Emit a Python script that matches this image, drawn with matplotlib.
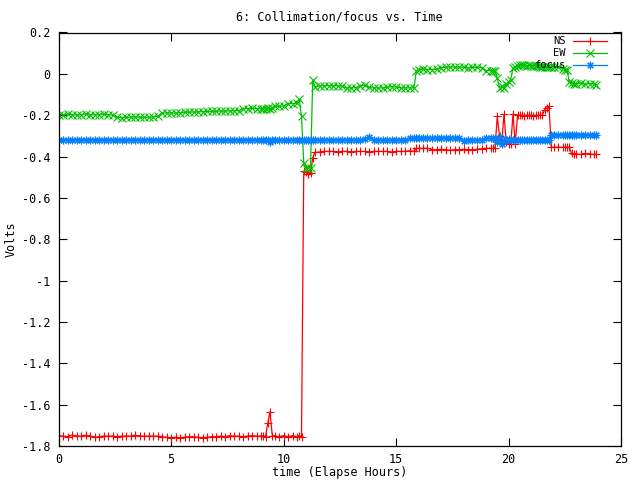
import matplotlib
matplotlib.use("Agg")
import matplotlib.pyplot as plt
from matplotlib.lines import Line2D
from matplotlib.ticker import FuncFormatter

plt.rcParams['font.family'] = ['DejaVu Sans Mono', 'DejaVu Sans']
plt.rcParams['axes.unicode_minus'] = False

title = "6: Collimation/focus vs. Time"
x_label = "time (Elapse Hours)"
y_label = "Volts"
series_names = ["NS", "EW", "focus"]
series_colors = ["#ff0000", "#00c000", "#0080ff"]
x_ticks = [0, 5, 10, 15, 20, 25]
y_ticks = [0.2, 0, -0.2, -0.4, -0.6, -0.8, -1, -1.2, -1.4, -1.6, -1.8]

time_h = [
    0.0, 0.2, 0.4, 0.6, 0.8, 1.0, 1.2, 1.4, 1.6, 1.8,
    2.0, 2.2, 2.4, 2.6, 2.8, 3.0, 3.2, 3.4, 3.6, 3.8,
    4.0, 4.2, 4.4, 4.6, 4.8, 5.0, 5.2, 5.4, 5.6, 5.8,
    6.0, 6.2, 6.4, 6.6, 6.8, 7.0, 7.2, 7.4, 7.6, 7.8,
    8.0, 8.2, 8.4, 8.6, 8.8, 9.0,
    9.1, 9.2, 9.3, 9.4, 9.5, 9.6, 9.8, 10.0, 10.2, 10.4,
    10.6, 10.7, 10.8, 10.9, 11.0, 11.1, 11.2, 11.3, 11.4,
    11.6, 11.8, 12.0, 12.2, 12.4, 12.6, 12.8, 13.0, 13.2, 13.4,
    13.6, 13.8, 14.0, 14.2, 14.4, 14.6, 14.8, 15.0, 15.2, 15.4,
    15.6, 15.8,
    15.9, 16.0, 16.2, 16.4, 16.6, 16.8, 17.0, 17.2, 17.4, 17.6,
    17.8, 18.0, 18.2, 18.4, 18.6, 18.8, 19.0, 19.2,
    19.3, 19.4, 19.5, 19.6, 19.7, 19.8, 19.9, 20.0, 20.1, 20.2,
    20.3, 20.4, 20.5, 20.6, 20.7, 20.8, 20.9, 21.0, 21.1, 21.2,
    21.3, 21.4, 21.5, 21.6, 21.7, 21.8, 21.9, 22.0,
    22.2, 22.4, 22.5, 22.6, 22.7, 22.8, 22.9, 23.0, 23.2, 23.4,
    23.6, 23.8, 23.9,
]

ns_volts = [
    -1.752, -1.752, -1.755, -1.748, -1.752, -1.752, -1.748, -1.752, -1.758, -1.755,
    -1.752, -1.752, -1.752, -1.755, -1.752, -1.752, -1.752, -1.748, -1.752, -1.752,
    -1.752, -1.752, -1.752, -1.755, -1.758, -1.76, -1.758, -1.76, -1.758, -1.755,
    -1.755, -1.758, -1.76, -1.758, -1.755, -1.755, -1.752, -1.755, -1.75, -1.752,
    -1.752, -1.755, -1.752, -1.75, -1.752, -1.752,
    -1.75, -1.755, -1.69, -1.635, -1.75, -1.75, -1.755, -1.75, -1.755, -1.75,
    -1.755, -1.75, -1.755, -0.47, -0.475, -0.485, -0.48, -0.405, -0.38,
    -0.378, -0.375, -0.375, -0.375, -0.378, -0.375, -0.375, -0.38, -0.375, -0.375,
    -0.375, -0.38, -0.375, -0.375, -0.375, -0.375, -0.38, -0.375, -0.375, -0.375,
    -0.372, -0.375,
    -0.36, -0.36, -0.36, -0.36, -0.367, -0.367, -0.365, -0.367, -0.37, -0.367,
    -0.367, -0.365, -0.367, -0.367, -0.365, -0.362, -0.36, -0.36,
    -0.36, -0.36, -0.205, -0.30, -0.335, -0.195, -0.33, -0.34, -0.34, -0.195,
    -0.34, -0.2, -0.2, -0.2, -0.205, -0.2, -0.2, -0.2, -0.205, -0.2,
    -0.2, -0.2, -0.2, -0.175, -0.165, -0.157, -0.355, -0.355,
    -0.355, -0.355, -0.355, -0.355, -0.355, -0.385, -0.387, -0.387, -0.39, -0.385,
    -0.387, -0.39, -0.387,
]

ew_volts = [
    -0.197, -0.197, -0.195, -0.197, -0.2, -0.197, -0.195, -0.2, -0.197, -0.197,
    -0.195, -0.197, -0.2, -0.21, -0.212, -0.21, -0.21, -0.208, -0.21, -0.21,
    -0.21, -0.208, -0.205, -0.19, -0.189, -0.189, -0.19, -0.188, -0.186, -0.185,
    -0.185, -0.184, -0.183, -0.182, -0.182, -0.181, -0.18, -0.18, -0.179, -0.178,
    -0.178, -0.168, -0.168, -0.167, -0.168, -0.168,
    -0.168, -0.168, -0.167, -0.168, -0.166, -0.157, -0.157, -0.156, -0.144, -0.144,
    -0.143, -0.122, -0.205, -0.43, -0.455, -0.455, -0.455, -0.028, -0.065,
    -0.057, -0.057, -0.057, -0.058, -0.057, -0.06, -0.068, -0.068, -0.067, -0.06,
    -0.055, -0.065, -0.068, -0.068, -0.068, -0.066, -0.062, -0.062, -0.068, -0.068,
    -0.068, -0.068,
    0.013, 0.021, 0.022, 0.021, 0.021, 0.022, 0.03, 0.032, 0.034, 0.032,
    0.033, 0.032, 0.03, 0.032, 0.031, 0.03, 0.016, 0.016,
    0.016, 0.015, -0.02, -0.068, -0.06, -0.07, -0.05, -0.04, -0.028, 0.028,
    0.035, 0.04, 0.045, 0.042, 0.042, 0.04, 0.042, 0.04, 0.04, 0.038,
    0.036, 0.035, 0.035, 0.034, 0.035, 0.035, 0.034, 0.035,
    0.035, 0.025, 0.021, 0.02, -0.04, -0.045, -0.047, -0.048, -0.045, -0.05,
    -0.047, -0.048, -0.052,
]

focus_volts = [
    -0.318, -0.318, -0.318, -0.318, -0.318, -0.318, -0.318, -0.318, -0.318, -0.318,
    -0.318, -0.318, -0.318, -0.318, -0.318, -0.318, -0.318, -0.318, -0.318, -0.318,
    -0.318, -0.318, -0.318, -0.318, -0.318, -0.318, -0.318, -0.318, -0.318, -0.318,
    -0.318, -0.318, -0.318, -0.318, -0.318, -0.318, -0.318, -0.318, -0.318, -0.318,
    -0.318, -0.318, -0.318, -0.318, -0.318, -0.318,
    -0.32, -0.32, -0.32, -0.332, -0.32, -0.32, -0.32, -0.32, -0.32, -0.32,
    -0.32, -0.32, -0.32, -0.32, -0.32, -0.32, -0.32, -0.32, -0.32,
    -0.32, -0.32, -0.32, -0.32, -0.32, -0.32, -0.32, -0.32, -0.32, -0.32,
    -0.315, -0.307, -0.32, -0.32, -0.32, -0.32, -0.32, -0.32, -0.32, -0.32,
    -0.31, -0.31,
    -0.31, -0.31, -0.31, -0.31, -0.31, -0.31, -0.31, -0.31, -0.31, -0.31,
    -0.312, -0.325, -0.318, -0.318, -0.32, -0.318, -0.312, -0.31,
    -0.31, -0.315, -0.33, -0.305, -0.34, -0.325, -0.318, -0.315, -0.318, -0.32,
    -0.318, -0.318, -0.318, -0.318, -0.32, -0.318, -0.318, -0.318, -0.318, -0.32,
    -0.318, -0.318, -0.318, -0.318, -0.318, -0.318, -0.295, -0.295,
    -0.295, -0.295, -0.295, -0.294, -0.295, -0.295, -0.295, -0.294, -0.295, -0.295,
    -0.295, -0.295, -0.295,
]

W, H = 640, 480
fig = plt.figure(figsize=(6.4, 4.8), dpi=100)
left, right, top, bottom = 58.5, 621.0, 32.5, 446.0
ax = fig.add_axes([left / W, 1 - bottom / H, (right - left) / W, (bottom - top) / H])

markers = ['+', 'x', (8, 2, 0)]
for vals, name, col, mk in zip([ns_volts, ew_volts, focus_volts], series_names, series_colors, markers):
    ax.plot(time_h, vals, color=col, lw=0.9, marker=mk, ms=5.5, mew=0.8, label=name)

ax.set_xlim(0, 25)
ax.set_ylim(-1.8, 0.2)
ax.set_xticks(x_ticks)
ax.set_yticks(y_ticks)
ax.xaxis.set_major_formatter(FuncFormatter(lambda v, p: "%g" % v))
ax.yaxis.set_major_formatter(FuncFormatter(lambda v, p: "%g" % (0 if abs(v) < 1e-9 else v)))
ax.tick_params(direction='in', length=6, width=0.8, top=True, right=True,
               labelsize=8.5, colors='black')
ax.tick_params(axis='y', pad=6)
ax.tick_params(axis='x', pad=5)
for s in ax.spines.values():
    s.set_linewidth(0.9)
    s.set_color('black')

ax.set_xlabel(x_label, fontsize=8.5, va='center')
ax.xaxis.set_label_coords(0.5, (bottom - 472.5) / (bottom - top))
ax.set_ylabel(y_label, fontsize=8.5, va='center', ha='center')
ax.yaxis.set_label_coords((11.5 - left) / (right - left), 0.5)
ax.set_title(title, fontsize=8.5, va='center', pad=0, y=1 + (top - 16.5) / (bottom - top))

# key (gnuplot style: right-aligned text, sample line to its right)
key_rows = [41.3, 53.2, 65.1]
for name, col, mk, yp in zip(series_names, series_colors, markers, key_rows):
    fy = 1 - yp / H
    fig.text(565.5 / W, fy, name, ha='right', va='center', fontsize=7.5)
    ln = Line2D([573 / W, 590 / W, 607 / W], [fy, fy, fy], transform=fig.transFigure,
                color=col, lw=0.9, marker=mk, ms=5.5, mew=0.8, markevery=[1])
    fig.add_artist(ln)

fig.savefig("out.png", dpi=100)
